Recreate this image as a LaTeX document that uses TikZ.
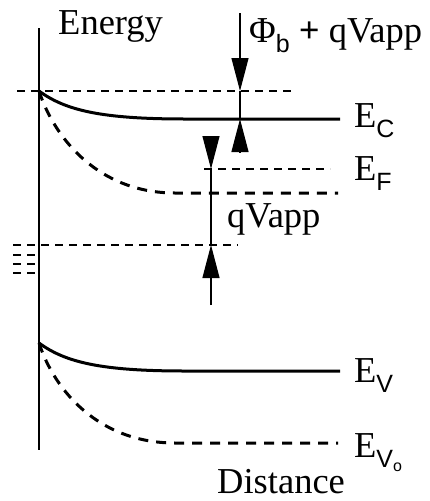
\documentclass[tikz,border=0pt]{standalone}
\usepackage{fontspec}
\setmainfont{Liberation Serif}
\newfontfamily\subf{Liberation Sans}
\usetikzlibrary{arrows.meta}
\newcommand{\bigtxt}{\fontsize{36.5}{40}\selectfont}
\newcommand{\subtxt}[1]{\raisebox{-10pt}{\subf\fontsize{25}{25}\selectfont #1}}
\tikzset{
  axisline/.style={line width=2pt},
  band/.style={line width=3pt},
  bandd/.style={line width=3pt, dash pattern=on 10pt off 8pt},
  level/.style={line width=1.4pt, dash pattern=on 8pt off 6pt},
  dim/.style={line width=1.2pt},
  dimarr/.style={line width=1.2pt, -{Triangle[length=33pt,width=17pt]}},
  lbl/.style={inner sep=0pt, anchor=base west, font=\bigtxt},
}
\begin{document}
\begin{tikzpicture}[x=1pt,y=-1pt]
\useasboundingbox (0,0) rectangle (429,501);
% axis
\coordinate (ax1) at (39,28);
\coordinate (ax2) at (39,450);
\draw[axisline] (ax1) -- (ax2);
% reference dashed levels
\coordinate (t1) at (17,91);  \coordinate (t2) at (292,91);
\draw[level] (t1) -- (t2);
\coordinate (f1) at (204,169); \coordinate (f2) at (330,169);
\draw[level] (f1) -- (f2);
\coordinate (m1) at (13,245); \coordinate (m2) at (238,245);
\draw[level] (m1) -- (m2);
\foreach \yy in {255,264,273}{
  \draw[level] (13,\yy) -- (37,\yy);
}
% conduction band
\coordinate (c0) at (39,91);
\coordinate (c1) at (340,119);
\draw[band] (c0) .. controls (65,110) and (100,119) .. (185,119) -- (c1);
\coordinate (c2) at (338,193);
\draw[bandd] (c0) .. controls (55,140) and (100,193) .. (175,193) -- (c2);
% valence band
\coordinate (v0) at (39,343);
\coordinate (v1) at (340,371);
\draw[band] (v0) .. controls (65,362) and (100,371) .. (185,371) -- (v1);
\coordinate (v2) at (338,443);
\draw[bandd] (v0) .. controls (55,392) and (100,443) .. (175,443) -- (v2);
% dimension arrow 1
\coordinate (a1) at (240,13);
\coordinate (a2) at (240,91);
\coordinate (a3) at (240,119);
\coordinate (a4) at (240,152);
\draw[dimarr] (a1) -- (a2);
\draw[dim] (a2) -- (a3);
\draw[dimarr] (a4) -- (a3);
% dimension arrow 2
\coordinate (b1) at (211,137);
\coordinate (b2) at (211,169);
\coordinate (b3) at (211,245);
\coordinate (b4) at (211,305);
\draw[dimarr] (b1) -- (b2);
\draw[dim] (b2) -- (b3);
\draw[dimarr] (b4) -- (b3);
% labels
\node[lbl] (energy) at (58,34) {Energy};
\node[lbl] (distance) at (217,493) {Distance};
\node[lbl] (phib) at (249,42) {Φ\subtxt{b} \textbf{+} qVapp};
\node[lbl] (qv) at (227,227) {qVapp};
\node[lbl] (ec) at (354,127) {E\subtxt{C}};
\node[lbl] (ef) at (354,180) {E\subtxt{F}};
\node[lbl] (ev) at (354,382) {E\subtxt{V}};
\node[lbl] (evo) at (354,457) {E\subtxt{V\raisebox{-4pt}{\fontsize{16}{16}\selectfont o}}};
\end{tikzpicture}
\end{document}
